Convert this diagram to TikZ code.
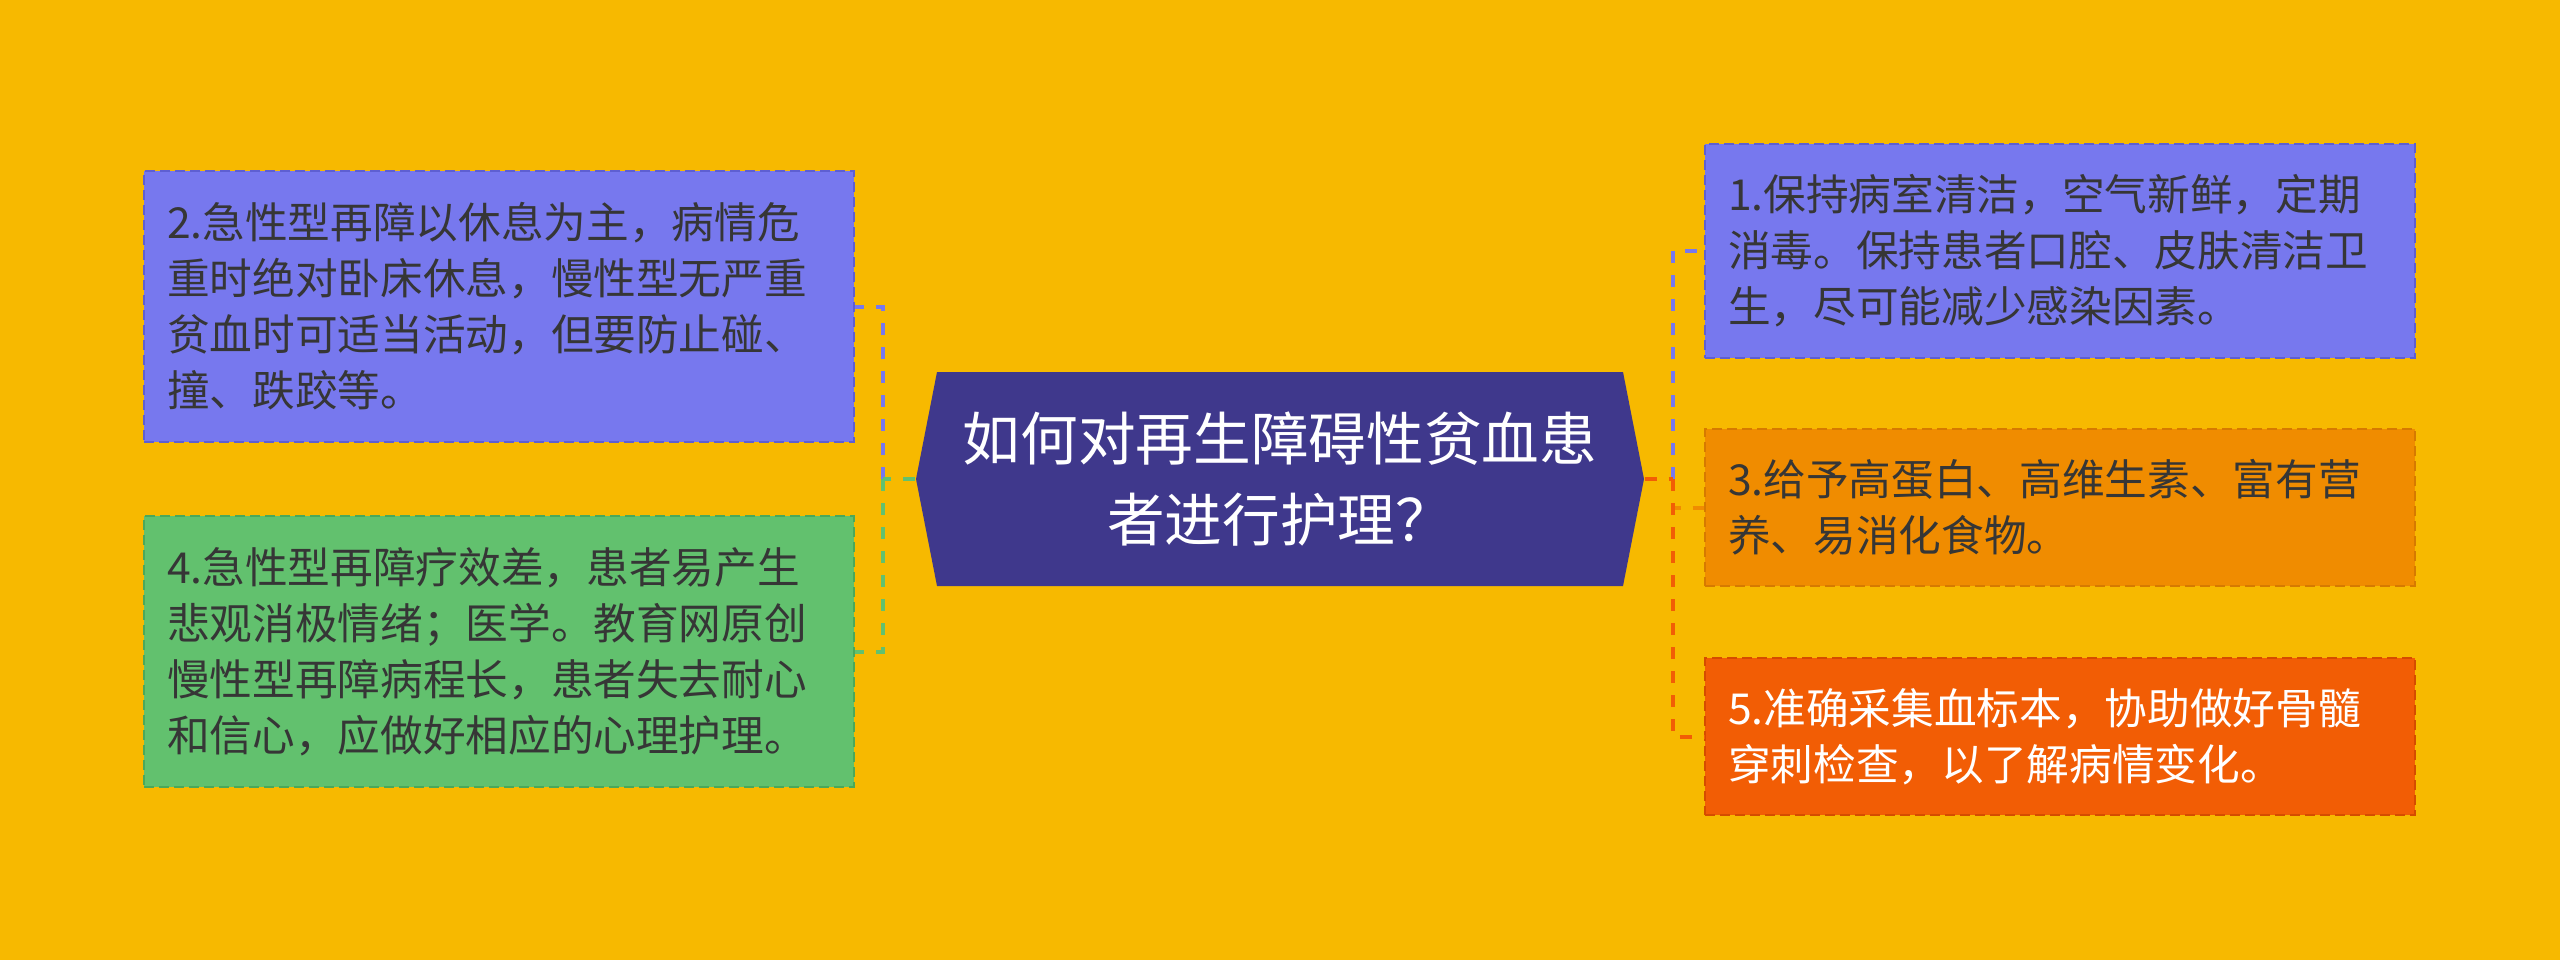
\documentclass[tikz,border=0pt]{standalone}
\usepackage{fontspec}
\setmainfont{Noto Sans CJK SC}
\definecolor{bg}{HTML}{F7B900}
\definecolor{lilac}{HTML}{7778EE}
\definecolor{lilacline}{HTML}{5E5FD2}
\definecolor{leaf}{HTML}{62C16E}
\definecolor{leafline}{HTML}{4BA85A}
\definecolor{amber}{HTML}{F08C00}
\definecolor{amberline}{HTML}{D67A00}
\definecolor{flame}{HTML}{F25D05}
\definecolor{flameline}{HTML}{D54C00}
\definecolor{navy}{HTML}{3F388C}
\definecolor{ink}{HTML}{363636}
\begin{document}
\begin{tikzpicture}[x=0.3pt,y=-0.3pt,
    box/.style={draw,line width=0.5pt,dash pattern=on 3pt off 1.5pt,
      text width=199.2pt,inner xsep=6.9pt,inner ysep=0pt,align=left,
      font=\fontsize{12.8}{16.8}\selectfont,text=ink},
    link/.style={line width=1.2pt,dash pattern=on 3.6pt off 3.6pt}]
  \fill[bg] (0,0) rectangle (2560,960);
  \useasboundingbox (0,0) rectangle (2560,960);
  % centre topic
  \fill[navy] (916,479) -- (937,372) -- (1623,372) -- (1644,479)
    -- (1623,586) -- (937,586) -- cycle;
  \node[minimum width=218.4pt,minimum height=64.2pt,align=center,text=white,
    font=\fontsize{17.3}{24.5}\selectfont] (root) at (1280,479)
    {如何对再生障碍性贫血患\\者进行护理？};
  % left
  \node[box,fill=lilac,draw=lilacline,minimum height=81.3pt] (n2) at (499,306.5)
    {2.急性型再障以休息为主，病情危\\重时绝对卧床休息，慢性型无严重\\贫血时可适当活动，但要防止碰、\\撞、跌跤等。};
  \node[box,fill=leaf,draw=leafline,minimum height=81.3pt] (n4) at (499,651.5)
    {4.急性型再障疗效差，患者易产生\\悲观消极情绪；医学。教育网原创\\慢性型再障病程长，患者失去耐心\\和信心，应做好相应的心理护理。};
  % right
  \node[box,fill=lilac,draw=lilacline,minimum height=64.2pt] (n1) at (2060,251)
    {1.保持病室清洁，空气新鲜，定期\\消毒。保持患者口腔、皮肤清洁卫\\生，尽可能减少感染因素。};
  \node[box,fill=amber,draw=amberline,minimum height=47.1pt] (n3) at (2060,507.5)
    {3.给予高蛋白、高维生素、富有营\\养、易消化食物。};
  \node[box,fill=flame,draw=flameline,minimum height=47.1pt,text=white] (n5) at (2060,736.5)
    {5.准确采集血标本，协助做好骨髓\\穿刺检查，以了解病情变化。};
  \coordinate (lj) at (883,479);
  \coordinate (rj) at (1673,479);
  \begin{scope}[link]
    \draw[lilac] (lj) |- (n2.east);
    \draw[leaf] (lj) |- (n4.east);
    \draw[leaf] (root.west) -- (lj);
    \draw[lilac] (rj) |- (n1.west);
    \draw[amber] (rj) |- (n3.west);
    \draw[flame] (rj) |- (n5.west);
    \draw[flame] (root.east) -- (rj);
  \end{scope}
\end{tikzpicture}
\end{document}
